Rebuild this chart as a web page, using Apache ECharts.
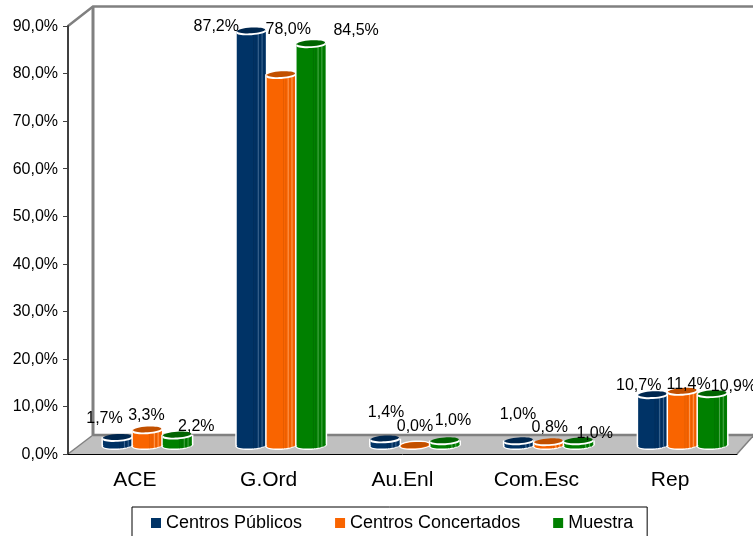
<!DOCTYPE html>
<html><head><meta charset="utf-8">
<style>html,body{margin:0;padding:0;background:#fff}#c{width:753px;height:536px}</style>
<script src="https://cdn.jsdelivr.net/npm/echarts@6/dist/echarts.min.js"></script>
</head><body><div id="c"></div>
<script>
const categories = ['ACE', 'G.Ord', 'Au.Enl', 'Com.Esc', 'Rep'];
const publicos = [1.7, 87.2, 1.4, 1.0, 10.7];
const concertados = [3.3, 78.0, 0.0, 0.8, 11.4];
const muestra = [2.2, 84.5, 1.0, 1.0, 10.9];
const seriesNames = ['Centros Públicos', 'Centros Concertados', 'Muestra'];

// Layout and style only
const labelNudge = [
  [[-13,-19],[-35,-4.5],[1,-26],[-1,-26],[-14,-8.5]],
  [[-1,-14],[7,-44.5],[0,-19],[1,-14],[6,-6]],
  [[19,-8],[45,-13],[8,-20],[16,-6.5],[21,-6.5]]
];
const palette = [
  {body:'#003366', top:'#00274f', stripe:'#6f8fb0', low:'#002a55'},
  {body:'#f96400', top:'#c25000', stripe:'#ffc090', low:'#d95700'},
  {body:'#008000', top:'#006400', stripe:'#80c080', low:'#006a00'}
];
const FONT = '"Liberation Sans", Arial, sans-serif';
const TILT = 0.06;
const chart = echarts.init(document.getElementById('c'), null, {renderer:'canvas'});

function tilted(cx, cy, rx, ry, fill) {
  return {type:'ellipse', x:cx, y:cy, rotation:TILT, shape:{cx:0, cy:0, rx:rx, ry:ry}, style:{fill:fill}};
}

function cylinder(si) {
  return function (params, api) {
    const c = api.coord([api.value(0), api.value(1)]);
    const band = api.size([1, 0])[0];
    const zero = api.coord([api.value(0), 0]);
    const w = band * 0.222, rx = w / 2 - 0.3, ry = 3.2;
    const cx = c[0] + 12.5 + (si - 1) * band * 0.2235;
    const yBase = zero[1] - 8.7;
    const yTop = c[1] - 8.7;
    const col = palette[si];
    const h = yBase - yTop;
    const kids = [];
    // white halo (sides and bottom only)
    kids.push(tilted(cx, yBase, rx+1.5, ry+1.5, '#fff'));
    kids.push({type:'rect', shape:{x:cx-rx-1.5, y:yTop, width:2*rx+3, height:Math.max(0,h)}, style:{fill:'#fff'}});
    // body
    kids.push(tilted(cx, yBase, rx, ry, col.body));
    kids.push({type:'rect', shape:{x:cx-rx, y:yTop, width:2*rx, height:Math.max(0,h)}, style:{fill:col.body}});
    // highlights
    if (h > 1) {
      [0.58,0.66,0.74,0.8,0.87,0.94].forEach(function (f, k) {
        const x = cx - rx + f * 2 * rx;
        kids.push({type:'line', shape:{x1:x, y1:yTop+2, x2:x, y2:yBase+ry*Math.sqrt(Math.max(0,1-Math.pow((x-cx)/rx,2)))},
          style:{stroke: k===2||k===4 ? col.stripe : col.low, lineWidth:0.8, opacity:0.75}});
      });
    }
    // rim & cap
    if (h > 1) kids.push(tilted(cx, yTop+1.4, rx+0.4, ry, '#fff'));
    kids.push(tilted(cx, yTop-0.2, rx-0.6, ry-0.3, col.top));
    // value label
    const n = labelNudge[si][params.dataIndex];
    kids.push({type:'text', z2:100, style:{
      text: api.value(1).toFixed(1).replace('.', ',') + '%',
      x: cx + n[0], y: yTop + n[1], align:'center', verticalAlign:'middle',
      font: '16px ' + FONT, fill:'#000'}});
    return {type:'group', children:kids};
  };
}

function makeSeries(name, values, si) {
  return {
    type:'custom', name:name, coordinateSystem:'cartesian2d', clip:false, silent:true, animation:false,
    itemStyle:{color:palette[si].body},
    encode:{x:0, y:1},
    renderItem:cylinder(si),
    data:values.map(function (v, i) { return [i, v]; }),
    z:5
  };
}

chart.setOption({
  animation:false,
  backgroundColor:'#fff',
  grid:{left:68, right:16, top:26, bottom:82, containLabel:false},
  legend:{
    data:seriesNames, left:132, top:507, orient:'horizontal',
    icon:'rect', itemWidth:10, itemHeight:10, itemGap:33,
    padding:[7,14,30,19], borderColor:'#000', borderWidth:1, backgroundColor:'#fff',
    textStyle:{fontFamily:FONT, fontSize:18, color:'#000'},
    selectedMode:false
  },
  xAxis:{
    type:'category', data:categories, boundaryGap:true,
    axisLine:{lineStyle:{color:'#000', width:1}},
    axisTick:{length:6, lineStyle:{color:'#000'}, alignWithLabel:false},
    axisLabel:{fontFamily:FONT, fontSize:21, color:'#000', margin:16},
    splitLine:{show:false}
  },
  yAxis:{
    type:'value', min:0, max:90, interval:10,
    axisLine:{show:true, lineStyle:{color:'#404040', width:2}},
    axisTick:{show:true, length:5, lineStyle:{color:'#404040'}},
    axisLabel:{fontFamily:FONT, fontSize:16, color:'#000', margin:10, padding:[0,0,0,0], verticalAlign:'middle', lineHeight:21,
      rich:{}, 
      formatter:function (v) { return v.toFixed(1).replace('.', ',') + '%\u200a'; }},
    splitLine:{show:false}
  },
  graphic:[
    {type:'polygon', z:-2, silent:true, shape:{points:[[68,454],[93,435],[753,435],[737,454]]}, style:{fill:'#c0c0c0'}},
    {type:'polyline', z:-1, silent:true, shape:{points:[[68,26],[93,6.5],[753,6.5]]}, style:{stroke:'#808080', lineWidth:2.5, fill:null}},
    {type:'line', z:-1, silent:true, shape:{x1:68, y1:454, x2:93, y2:435}, style:{stroke:'#808080', lineWidth:1.5}},
    {type:'line', z:-1, silent:true, shape:{x1:93, y1:435, x2:753, y2:435}, style:{stroke:'#808080', lineWidth:2.5}},
    {type:'line', z:-1, silent:true, shape:{x1:93, y1:6.5, x2:93, y2:435}, style:{stroke:'#808080', lineWidth:3}},
    {type:'line', z:-1, silent:true, shape:{x1:737, y1:454, x2:753, y2:436}, style:{stroke:'#808080', lineWidth:1.5}}
  ],
  series:[
    makeSeries(seriesNames[0], publicos, 0),
    makeSeries(seriesNames[1], concertados, 1),
    makeSeries(seriesNames[2], muestra, 2)
  ]
});
// Nudge the value-axis tick labels down to sit at the reference's baseline
chart.setOption({yAxis:{axisLabel:{verticalAlign:'top', lineHeight:13, padding:[-6,0,0,0], formatter:function (v) { return v.toFixed(1).replace('.', ',') + '%'; }}}});
</script></body></html>
